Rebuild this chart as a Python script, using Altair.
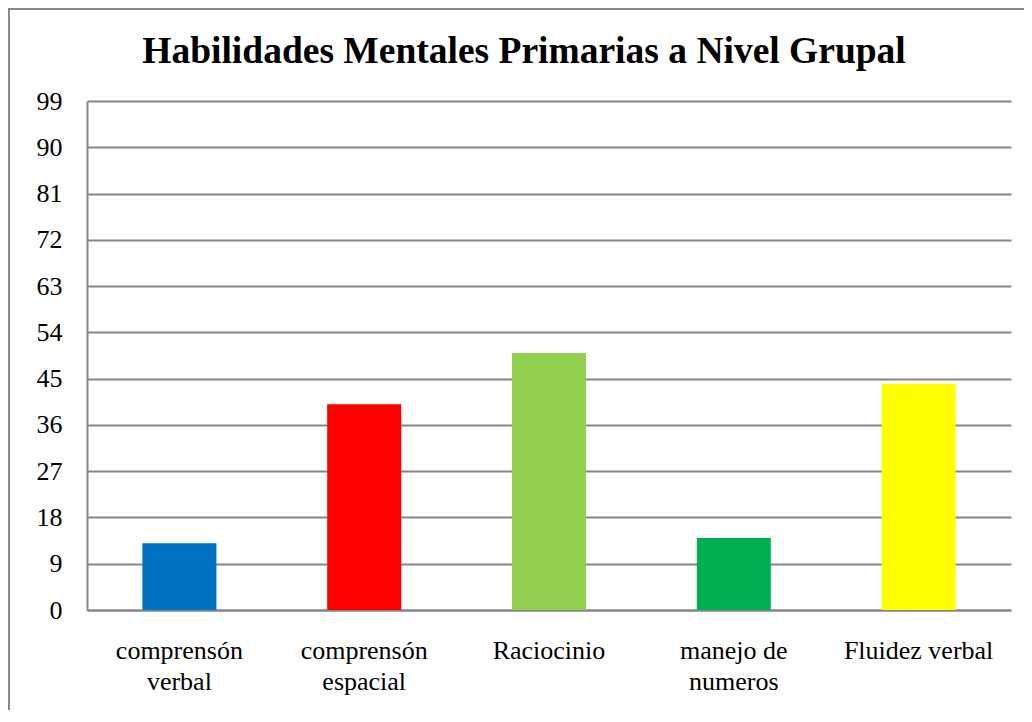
import altair as alt
import pandas as pd

categories = ["comprensón\nverbal", "comprensón\nespacial", "Raciocinio", "manejo de\nnumeros", "Fluidez verbal"]
values = [13, 40, 50, 14, 44]
colors = ["#0070C0", "#FF0000", "#92D050", "#00B050", "#FFFF00"]
y_ticks = [0, 9, 18, 27, 36, 45, 54, 63, 72, 81, 90, 99]
title_text = "Habilidades Mentales Primarias a Nivel Grupal"

df = pd.DataFrame({"cat": categories, "val": values})

W, H = 924, 509
PL, PT, PR, PB = 79, 93, 13, 100
FONT = "Liberation Serif"

bars = alt.Chart(df).mark_bar(size=74).encode(
    x=alt.X("cat:N", sort=categories, scale=alt.Scale(paddingInner=0, paddingOuter=0),
            axis=alt.Axis(title=None, labelAngle=0, ticks=False, labelFont=FONT, labelFontSize=26,
                          labelColor="black", labelPadding=27, labelLineHeight=31,
                          labelExpr="split(datum.value, '\\n')", domainColor="#868686",
                          domainWidth=2, grid=False)),
    y=alt.Y("val:Q", scale=alt.Scale(domain=[0, 99], nice=False),
            axis=alt.Axis(title=None, values=y_ticks, ticks=False, labelFont=FONT, labelFontSize=26,
                          labelColor="black", labelPadding=25, domainColor="#868686", domainWidth=2,
                          gridColor="#868686", gridWidth=1.8)),
    color=alt.Color("cat:N", scale=alt.Scale(domain=categories, range=colors), legend=None),
)

border = alt.Chart(df).mark_rect(fill=None, stroke="#878787", strokeWidth=3).encode(
    x=alt.value(-PL), x2=alt.value(W + PR + 20),
    y=alt.value(-PT), y2=alt.value(H + PB + 20),
)

title = alt.Chart(pd.DataFrame({"t": [title_text]})).mark_text(
    font=FONT, fontSize=37.5, fontWeight="bold", color="black", align="center", baseline="alphabetic"
).encode(text="t:N", x=alt.value(437), y=alt.value(-38))

chart = alt.layer(border, bars, title).properties(
    width=W, height=H,
    autosize=alt.AutoSizeParams(type="none"),
    padding={"left": PL, "top": PT, "right": PR, "bottom": PB},
).configure_view(stroke=None)

chart.save("out.html", embed_options={"renderer": "svg", "actions": False})
